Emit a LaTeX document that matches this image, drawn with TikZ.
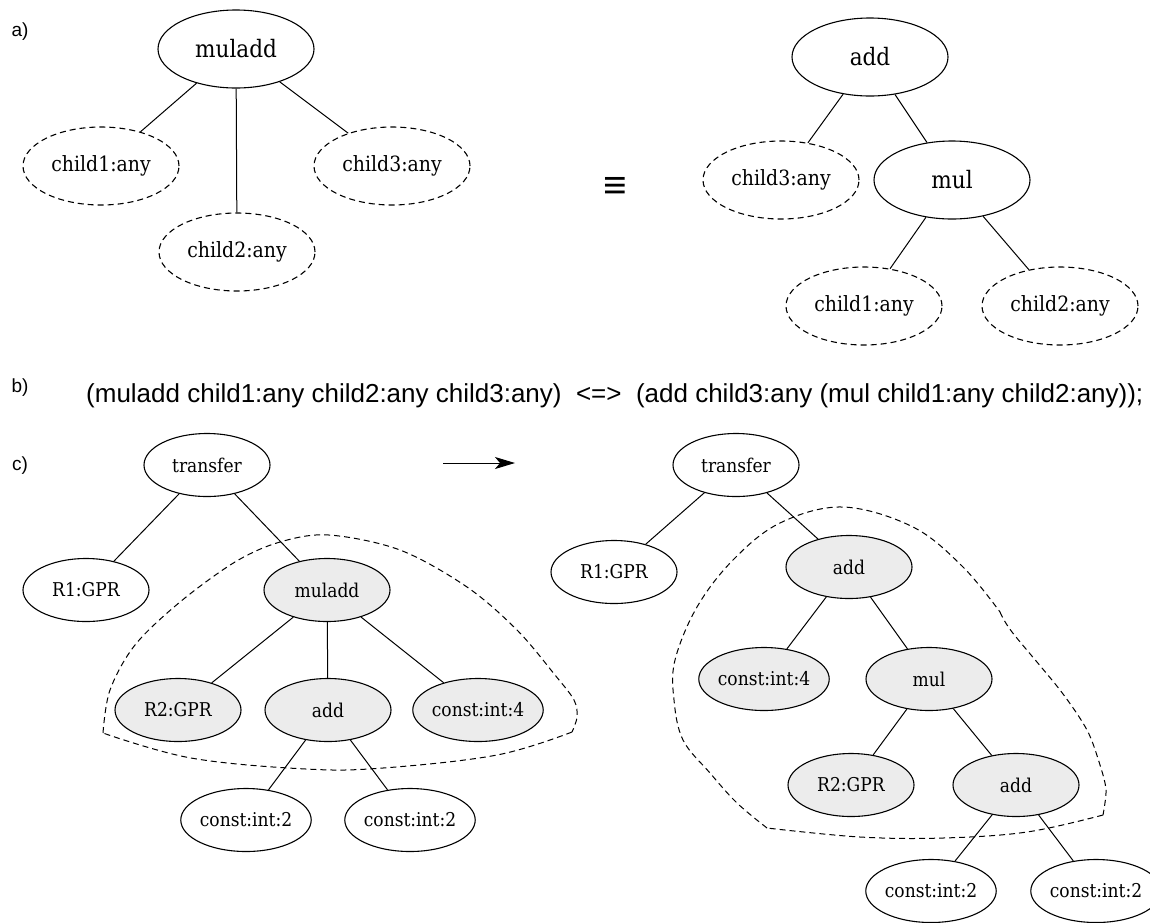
\documentclass[tikz,border=0pt]{standalone}
\usepackage{fontspec}
\setmainfont{DejaVu Serif Condensed}
\newfontfamily\labelfont{Liberation Sans}
\usetikzlibrary{shapes.geometric,arrows.meta}

\tikzset{
  tnode/.style={ellipse, draw, line width=1.1pt, inner sep=0pt},
  bigop/.style={tnode, minimum width=156pt, minimum height=78pt,
                font=\fontsize{24}{28}\selectfont},
  anychild/.style={tnode, dashed, dash pattern=on 6pt off 4pt,
                   minimum width=156pt, minimum height=78pt,
                   font=\fontsize{21}{25}\selectfont},
  irnode/.style={tnode, minimum width=126pt, minimum height=63pt,
                 font=\fontsize{19}{23}\selectfont},
  hinode/.style={irnode, fill=gray!15},
  edge/.style={line width=1pt},
  region/.style={line width=1pt, dash pattern=on 6pt off 4pt},
  partlabel/.style={font=\labelfont\fontsize{19}{22}\selectfont, inner sep=0pt}
}

\begin{document}
\begin{tikzpicture}[x=1pt, y=-1pt]
\useasboundingbox (0,0) rectangle (1150,922);

% ---------------- a) pattern and its expansion ----------------
\node[partlabel] (la) at (20,32) {a)};

\node[bigop]    (amuladd) at (236,49)  {muladd};
\node[anychild] (ac1)     at (101,166) {child1:any};
\node[anychild] (ac2)     at (237,252) {child2:any};
\node[anychild] (ac3)     at (392,166) {child3:any};
\draw[edge] (amuladd) -- (ac1);
\draw[edge] (amuladd) -- (ac2);
\draw[edge] (amuladd) -- (ac3);

\node[font=\labelfont\bfseries\fontsize{30}{30}\selectfont, inner sep=0pt]
  (equiv) at (615,188) {\scalebox{1.35}[1.3]{≡}};

\node[bigop]    (badd) at (870,57)  {add};
\node[anychild] (bc3)  at (781,180) {child3:any};
\node[bigop]    (bmul) at (952,180) {mul};
\node[anychild] (bc1)  at (864,306) {child1:any};
\node[anychild] (bc2)  at (1060,306) {child2:any};
\draw[edge] (badd) -- (bc3);
\draw[edge] (badd) -- (bmul);
\draw[edge] (bmul) -- (bc1);
\draw[edge] (bmul) -- (bc2);

% ---------------- b) textual rule ----------------
\node[partlabel] (lb) at (20,388) {b)};
\node[font=\labelfont\fontsize{26}{30}\selectfont, inner sep=0pt, anchor=base west]
  (rule) at (86,402)
  {(muladd child1:any child2:any child3:any)\ \ <=>\ \ (add child3:any (mul child1:any child2:any));};

% ---------------- c) rewriting an instruction tree ----------------
\node[partlabel] (lc) at (20,466) {c)};

% matched region before the rewrite
\draw[region] plot[smooth, tension=0.55] coordinates {
  (103,733) (110,690) (135,645) (180,602) (235,562) (280,542) (329,535)
  (400,550) (467,587) (517,630) (555,675) (574,700) (577,717) (572,732)};
\draw[region] plot[smooth, tension=0.6] coordinates {
  (572,732) (497,755) (383,768) (306,769) (191,758) (103,733)};

\node[irnode] (ltr)  at (207,465) {transfer};
\node[irnode] (lr1)  at (86,590)  {R1:GPR};
\node[hinode] (lmad) at (327,590) {muladd};
\node[hinode] (lr2)  at (178,710) {R2:GPR};
\node[hinode] (ladd) at (328,710) {add};
\node[hinode] (lk4)  at (478,710) {const:int:4};
\node[irnode] (lk2a) at (246,820) {const:int:2};
\node[irnode] (lk2b) at (410,820) {const:int:2};
\draw[edge] (ltr) -- (lr1);
\draw[edge] (ltr) -- (lmad);
\draw[edge] (lmad) -- (lr2);
\draw[edge] (lmad) -- (ladd);
\draw[edge] (lmad) -- (lk4);
\draw[edge] (ladd) -- (lk2a);
\draw[edge] (ladd) -- (lk2b);

% rewrite arrow
\coordinate (arrfrom) at (443,463);
\coordinate (arrto)   at (515,463);
\draw[line width=1pt, -{Stealth[length=20pt, width=12pt, inset=5pt]}] (arrfrom) -- (arrto);

% replaced region after the rewrite
\draw[region] plot[smooth, tension=0.6] coordinates {
  (767,828) (737,803) (710,773) (683,740) (674,700) (675,660) (697,607)
  (733,560) (780,523) (843,507) (913,527) (963,567) (1000,612)};
\draw[region] plot[smooth, tension=0.5] coordinates {
  (1000,612) (1012,632) (1060,690) (1087,730) (1100,765) (1106,790) (1103,815)};
\draw[region] plot[smooth, tension=0.6] coordinates {
  (1103,815) (1027,832) (943,838) (860,837) (767,828)};

\node[irnode] (rtr)   at (736,465)  {transfer};
\node[irnode] (rr1)   at (614,572)  {R1:GPR};
\node[hinode] (radd)  at (849,567)  {add};
\node[hinode] (rk4)   at (764,679)  {const:int:4};
\node[hinode] (rmul)  at (929,679)  {mul};
\node[hinode] (rr2)   at (851,785)  {R2:GPR};
\node[hinode] (radd2) at (1016,785) {add};
\node[irnode] (rk2a)  at (931,891)  {const:int:2};
\node[irnode] (rk2b)  at (1096,891) {const:int:2};
\draw[edge] (rtr) -- (rr1);
\draw[edge] (rtr) -- (radd);
\draw[edge] (radd) -- (rk4);
\draw[edge] (radd) -- (rmul);
\draw[edge] (rmul) -- (rr2);
\draw[edge] (rmul) -- (radd2);
\draw[edge] (radd2) -- (rk2a);
\draw[edge] (radd2) -- (rk2b);
\end{tikzpicture}
\end{document}
